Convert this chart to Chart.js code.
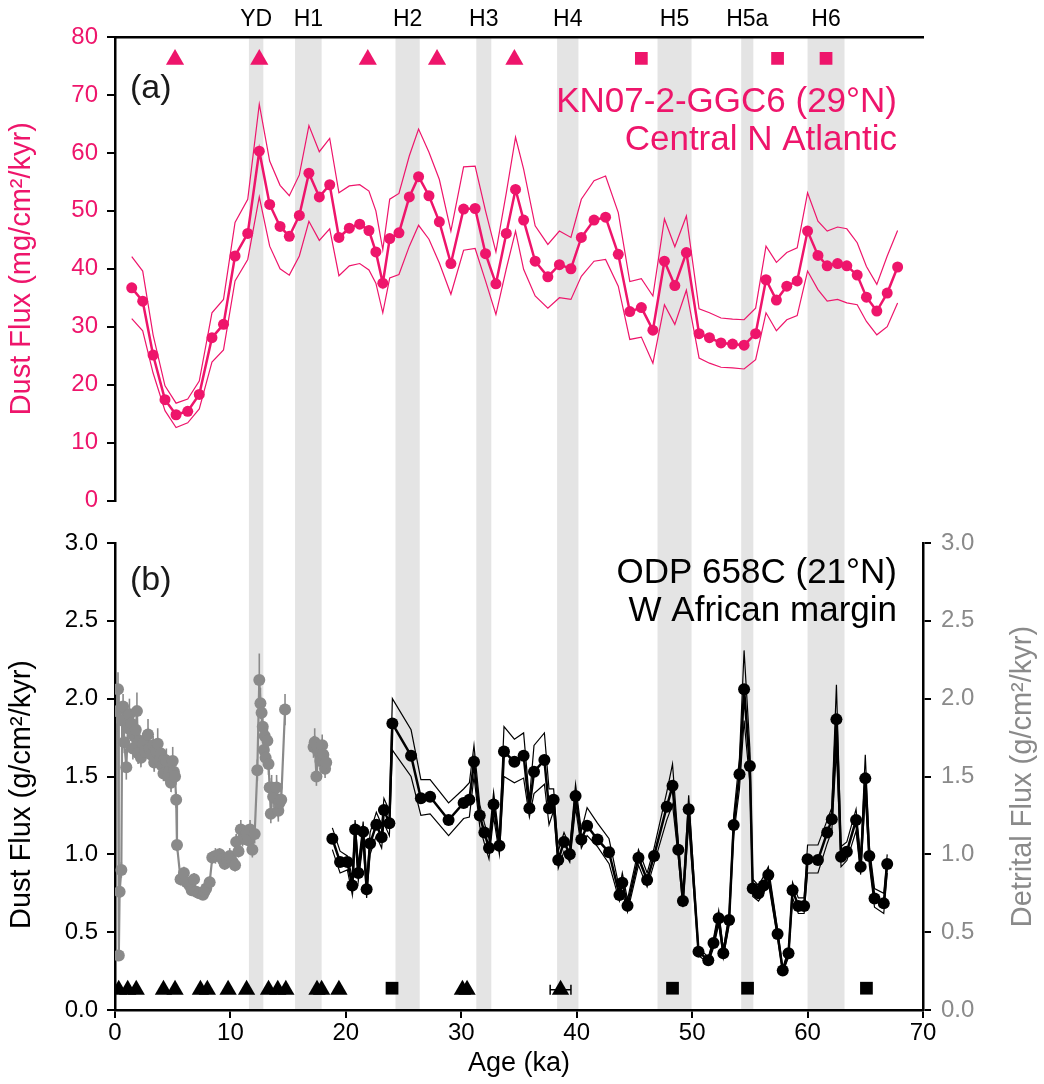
<!DOCTYPE html>
<html lang="en">
<head>
<meta charset="UTF-8" />
<title>Dust flux – KN07-2-GGC6 and ODP 658C</title>
<script src="https://cdn.jsdelivr.net/npm/chart.js@4.4.0/dist/chart.umd.min.js"></script>
<style>
  html,body{margin:0;background:#fff}
  #wrap{position:relative;width:1044px;height:1084px}
</style>
</head>
<body>
<div id="wrap"><canvas id="dust" width="1044" height="1084"></canvas></div>
<script>
/* ---------- data ---------- */
// stadial / Heinrich intervals (ka)
const eventName =['YD','H1','H2','H3','H4','H5','H5a','H6'];
const eventStart=[11.6,15.6,24.3,31.3,38.3,47.0,54.25,60.0];
const eventEnd  =[12.85,17.9,26.4,32.6,40.15,49.95,55.3,63.2];

// (a) KN07-2-GGC6 dust flux, mg/cm2/kyr
const ggcAge=[1.45,2.4,3.3,4.33,5.29,6.3,7.3,8.4,9.4,10.4,11.5,12.5,13.4,14.3,15.1,15.97,16.8,17.7,18.6,19.4,
  20.3,21.2,22.0,22.6,23.2,23.8,24.6,25.5,26.3,27.2,28.1,29.1,30.2,31.2,32.1,33.0,33.9,34.7,35.4,36.4,
  37.5,38.5,39.5,40.4,41.5,42.5,43.6,44.6,45.6,46.6,47.6,48.5,49.5,50.6,51.5,52.5,53.5,54.5,55.5,56.4,
  57.3,58.2,59.1,60.0,60.9,61.7,62.6,63.4,64.3,65.1,66.0,66.9,67.8];
const ggcFlux=[36.7,34.4,25.1,17.4,14.8,15.4,18.3,28.1,30.4,42.2,46.1,60.3,51.1,47.3,45.6,49.2,56.5,52.4,54.5,45.4,
  47.0,47.7,46.6,42.9,37.5,45.2,46.2,52.4,55.9,52.6,48.1,40.9,50.3,50.4,42.6,37.4,46.1,53.7,48.4,41.3,
  38.6,40.7,40.0,45.4,48.4,48.9,42.5,32.6,33.3,29.4,41.3,37.1,42.8,28.8,28.1,27.2,27.0,26.8,28.8,38.1,
  34.6,37.0,37.9,46.5,42.3,40.5,40.9,40.5,38.9,35.1,32.7,35.8,40.3];
const ggcHi=[42.1,39.6,28.6,19.8,16.8,17.5,20.6,32.4,34.7,48.0,52.0,68.4,58.6,54.4,52.6,56.2,64.7,60.2,62.5,53.1,
  54.3,54.5,53.4,50.0,43.3,52.0,53.0,59.5,64.1,60.1,55.4,46.5,57.6,57.7,50.0,42.9,53.1,62.7,57.2,47.4,
  44.2,46.5,45.4,52.0,55.2,56.0,49.7,37.8,38.3,35.3,48.6,43.8,49.1,33.1,32.4,31.5,31.3,31.2,33.2,43.9,
  41.1,42.8,43.6,53.1,48.2,46.5,47.2,46.9,44.5,40.4,37.3,42.2,46.6];
const ggcLo=[31.4,29.3,22.0,15.5,12.6,13.4,15.8,23.9,26.0,37.9,41.6,52.4,43.9,40.0,38.9,42.2,48.2,44.9,46.9,38.8,
  40.5,40.9,39.8,37.5,32.4,38.4,39.0,43.9,47.5,45.1,41.0,35.6,43.2,43.5,37.9,32.1,40.0,46.5,39.9,35.3,
  33.2,35.0,34.7,38.7,41.3,41.6,37.0,27.8,28.2,23.7,33.8,30.4,36.3,24.6,23.7,23.0,22.9,22.7,24.3,32.4,
  29.3,31.2,31.9,39.6,36.4,34.4,34.7,34.1,33.8,30.9,28.6,30.0,34.1];
// GGC6 age control
const ggcTriAge=[5.2,12.5,21.9,27.9,34.6];
const ggcSqAge=[45.6,57.4,61.6];
const ggcTriLevel=76.1, ggcSqLevel=76.3;

// (b) ODP 658C dust flux, g/cm2/kyr
const odpAge=[18.83,19.5,20.13,20.56,20.8,21.08,21.5,21.8,22.1,22.64,23.1,23.3,23.77,24.03,25.65,26.5,27.3,28.9,30.2,30.7,
  31.1,31.6,32.0,32.4,32.8,33.3,33.7,34.6,35.4,35.9,36.3,37.2,37.6,38.0,38.4,38.9,39.4,39.9,40.4,40.9,
  41.8,42.8,43.7,43.95,44.4,45.35,46.1,46.7,47.8,48.3,48.8,49.2,49.7,50.55,51.4,51.85,52.3,52.7,53.2,53.6,
  54.1,54.5,55.0,55.25,55.75,56.2,56.6,57.4,57.85,58.35,58.7,59.2,59.7,60.0,60.9,61.7,62.1,62.5,62.9,63.4,
  64.2,64.6,65.0,65.35,65.8,66.6,66.9];
const odpFlux=[1.10,0.95,0.95,0.80,1.16,0.88,1.145,0.775,1.07,1.19,1.11,1.285,1.20,1.84,1.634,1.36,1.37,1.22,1.33,1.35,
  1.595,1.25,1.14,1.04,1.32,1.055,1.66,1.595,1.634,1.296,1.53,1.606,1.296,1.35,0.964,1.08,1.00,1.375,1.096,1.184,
  1.096,1.013,0.739,0.818,0.67,0.978,0.835,0.99,1.306,1.44,1.03,0.70,1.29,0.375,0.32,0.43,0.59,0.364,0.578,1.188,
  1.514,2.06,1.567,0.78,0.75,0.80,0.867,0.488,0.253,0.364,0.77,0.668,0.668,0.968,0.964,1.14,1.225,1.867,0.985,1.017,
  1.22,0.92,1.488,0.99,0.717,0.685,0.938];
const odpHi=[1.17,1.02,0.99,0.85,1.22,0.93,1.21,0.83,1.14,1.27,1.19,1.36,1.28,2.00,1.80,1.48,1.48,1.33,1.42,1.46,
  1.70,1.32,1.20,1.10,1.40,1.10,1.82,1.74,1.78,1.35,1.70,1.78,1.42,1.42,1.02,1.14,1.05,1.45,1.15,1.30,
  1.20,1.10,0.78,0.88,0.71,1.03,0.88,1.04,1.40,1.58,1.08,0.74,1.38,0.40,0.34,0.46,0.64,0.39,0.62,1.25,
  1.62,2.31,1.68,0.84,0.80,0.86,0.92,0.52,0.27,0.39,0.82,0.72,0.72,1.06,1.06,1.22,1.30,2.09,1.05,1.08,
  1.29,0.98,1.64,1.05,0.78,0.75,1.00];
const odpLo=[1.03,0.88,0.90,0.74,1.09,0.83,1.08,0.72,1.00,1.12,1.04,1.20,1.12,1.67,1.50,1.25,1.26,1.12,1.23,1.24,
  1.50,1.18,1.07,0.97,1.24,1.00,1.50,1.46,1.49,1.24,1.39,1.45,1.19,1.28,0.91,1.02,0.95,1.30,1.04,1.12,
  1.05,0.94,0.70,0.76,0.63,0.93,0.79,0.94,1.22,1.32,0.98,0.66,1.20,0.35,0.30,0.40,0.55,0.34,0.54,1.12,
  1.42,1.86,1.46,0.73,0.70,0.75,0.82,0.46,0.24,0.34,0.72,0.62,0.62,0.88,0.88,1.07,1.15,1.67,0.92,0.96,
  1.15,0.87,1.38,0.93,0.66,0.62,0.88];

// (b) ODP 658C detrital flux, g/cm2/kyr (null = core gap)
const greyAge=[0.18,0.26,0.33,0.40,0.55,0.62,0.70,0.80,0.98,1.12,1.25,1.41,1.55,1.65,1.80,1.90,2.00,2.13,2.25,2.40,
  2.60,2.86,3.00,3.15,3.30,3.40,3.55,3.70,3.85,3.95,4.06,4.20,4.30,4.45,4.60,4.73,4.85,5.00,5.10,5.20,
  5.30,5.37,5.68,5.97,6.20,6.46,6.65,6.85,7.04,7.30,7.62,7.75,7.90,8.20,8.43,8.70,9.06,9.30,9.50,9.70,
  9.94,10.20,10.40,10.50,10.70,10.90,11.05,11.20,11.40,11.55,11.70,11.90,12.10,12.33,12.50,12.60,12.70,12.80,12.90,12.97,
  13.05,13.20,13.30,13.40,13.50,13.57,13.70,13.86,14.00,14.15,14.25,14.40,14.73,16.00,17.20,17.30,17.45,17.60,17.80,17.95,
  18.05,18.20,18.30];
const greyFlux=[1.92,2.06,0.35,0.76,0.90,1.86,1.95,1.72,1.56,1.81,1.90,1.84,1.68,1.76,1.80,1.92,1.65,1.73,1.62,1.71,
  1.66,1.77,1.68,1.64,1.70,1.59,1.66,1.71,1.60,1.65,1.57,1.52,1.61,1.60,1.50,1.53,1.46,1.60,1.53,1.50,
  1.35,1.06,0.84,0.88,0.82,0.80,0.77,0.84,0.76,0.75,0.74,0.76,0.78,0.82,0.98,0.99,1.00,0.97,0.94,0.96,
  0.99,0.95,0.93,1.08,1.02,1.16,1.10,1.11,1.14,1.09,1.16,1.03,1.13,1.54,2.12,1.97,1.91,1.82,1.67,1.76,
  1.62,1.73,1.58,1.43,1.26,1.43,1.37,1.36,1.43,1.28,1.33,1.35,1.93,null,1.69,1.72,1.50,1.66,1.60,1.70,
  1.64,1.55,1.59];
const greyErr=[0.08,0.11,0.03,0.04,0.05,0.10,0.08,0.07,0.08,0.09,0.10,0.08,0.07,0.08,0.06,0.12,0.07,0.08,0.06,0.07,
  0.06,0.10,0.06,0.07,0.06,0.06,0.08,0.10,0.06,0.07,0.06,0.05,0.06,0.08,0.05,0.07,0.06,0.09,0.06,0.05,
  0.05,0.04,0.04,0.04,0.03,0.04,0.03,0.04,0.03,0.03,0.03,0.03,0.04,0.04,0.04,0.05,0.04,0.04,0.04,0.05,
  0.05,0.04,0.04,0.05,0.04,0.06,0.05,0.05,0.05,0.05,0.06,0.05,0.06,0.07,0.17,0.10,0.09,0.08,0.08,0.09,
  0.07,0.08,0.07,0.06,0.06,0.08,0.07,0.07,0.08,0.07,0.06,0.08,0.10,0,0.07,0.09,0.06,0.07,0.06,0.07,
  0.07,0.06,0.05];
// ODP 658C age control
const odpTriAge=[0.32,1.1,1.84,4.2,5.2,7.4,8.0,9.8,11.4,13.3,14.1,14.8,17.5,17.9,19.4,30.1,30.5,38.6];
const odpSqAge=[24.0,48.3,54.8,65.1];
const odpTriLevel=0.13, odpSqLevel=0.14;
const tieErrAge=[38.6], tieErrHalf=[0.9];

/* ---------- style ---------- */
const PINK='#ee156b', GREY='#8a8a8a', BAND='#e4e4e4', INK='#000';
Chart.defaults.font.family="'Helvetica Neue','Liberation Sans',Arial,sans-serif";
Chart.defaults.color=INK;

const pts=(xs,ys)=>xs.map((a,i)=>({x:a,y:ys[i]}));
const flat=(xs,v)=>xs.map(a=>({x:a,y:v}));
const fixW=w=>s=>{s.width=w;};
const fixH=h=>s=>{s.height=h;};
const tickGrid={drawOnChartArea:false,tickLength:8,color:INK,lineWidth:2};
const axisLine={color:INK,width:2.5};

// rotated text reading bottom-to-top
function sideTitle(ctx,text,x,y,color,font){
  ctx.save();ctx.translate(x,y);ctx.rotate(-Math.PI/2);
  ctx.textAlign='center';ctx.textBaseline='middle';ctx.fillStyle=color;ctx.font=font;
  ctx.fillText(text,0,0);ctx.restore();
}

/* bands, error bars, labels */
const decor={
  id:'decor',
  beforeDraw(c){
    const {ctx,chartArea:a}=c,x=c.scales.x;
    ctx.save();ctx.fillStyle=BAND;
    eventStart.forEach((s,i)=>{const l=x.getPixelForValue(s),r=x.getPixelForValue(eventEnd[i]);
      ctx.fillRect(l,a.top,r-l,a.bottom-a.top);});
    ctx.restore();
  },
  beforeDatasetsDraw(c){
    const {ctx}=c,x=c.scales.x,yr=c.scales.yBotR,yb=c.scales.yBot;
    ctx.save();
    ctx.strokeStyle=GREY;ctx.lineWidth=1.6;
    greyAge.forEach((t,i)=>{const v=greyFlux[i];if(v==null)return;const px=x.getPixelForValue(t);
      ctx.beginPath();ctx.moveTo(px,yr.getPixelForValue(v-greyErr[i]));ctx.lineTo(px,yr.getPixelForValue(v+greyErr[i]));ctx.stroke();});
    ctx.strokeStyle=INK;ctx.lineWidth=1.5;
    tieErrAge.forEach((t,i)=>{const py=yb.getPixelForValue(odpTriLevel),l=x.getPixelForValue(t-tieErrHalf[i]),r=x.getPixelForValue(t+tieErrHalf[i]);
      ctx.beginPath();ctx.moveTo(l,py);ctx.lineTo(r,py);ctx.moveTo(l,py-5);ctx.lineTo(l,py+5);ctx.moveTo(r,py-5);ctx.lineTo(r,py+5);ctx.stroke();});
    ctx.restore();
  },
  afterDraw(c){
    const {ctx,chartArea:a}=c,x=c.scales.x,yb=c.scales.yBot,yr=c.scales.yBotR;
    const fam=Chart.defaults.font.family;
    ctx.save();
    // event labels above the frame
    ctx.fillStyle=INK;ctx.font=`23px ${fam}`;ctx.textAlign='center';ctx.textBaseline='middle';
    eventName.forEach((n,i)=>ctx.fillText(n,x.getPixelForValue((eventStart[i]+eventEnd[i])/2),20));
    // panel tags and site names
    ctx.textBaseline='alphabetic';ctx.font=`34px ${fam}`;
    ctx.textAlign='left';ctx.fillStyle='#1a1a1a';
    ctx.fillText('(a)',a.left+15,98);
    ctx.fillText('(b)',a.left+15,590);
    ctx.textAlign='right';ctx.font=`35px ${fam}`;
    ctx.fillStyle=PINK;
    ctx.fillText('KN07-2-GGC6 (29°N)',a.right-26,112);
    ctx.fillText('Central N Atlantic',a.right-26,150);
    ctx.fillStyle=INK;
    ctx.fillText('ODP 658C (21°N)',a.right-26,583);
    ctx.fillText('W African margin',a.right-26,621);
    ctx.restore();
    // lower panel axis titles
    sideTitle(ctx,'Dust Flux (g/cm²/kyr)',22,(yb.top+yb.bottom)/2+18,INK,`29px ${fam}`);
    sideTitle(ctx,'Detrital Flux (g/cm²/kyr)',1023,(yr.top+yr.bottom)/2,GREY,`29px ${fam}`);
  }
};

/* ---------- chart ---------- */
new Chart(document.getElementById('dust'),{
  type:'line',
  data:{datasets:[
    {data:flat(ggcTriAge,ggcTriLevel),yAxisID:'yTop',showLine:false,pointStyle:'triangle',pointRadius:10.5,backgroundColor:PINK,borderColor:PINK,borderWidth:0},
    {data:flat(ggcSqAge,ggcSqLevel),yAxisID:'yTop',showLine:false,pointStyle:'rect',pointRadius:9,backgroundColor:PINK,borderColor:PINK,borderWidth:0},
    {data:pts(ggcAge,ggcFlux),yAxisID:'yTop',borderColor:PINK,borderWidth:2.5,pointRadius:5.5,backgroundColor:PINK,pointBorderWidth:0},
    {data:pts(ggcAge,ggcHi),yAxisID:'yTop',borderColor:PINK,borderWidth:1.2,pointRadius:0},
    {data:pts(ggcAge,ggcLo),yAxisID:'yTop',borderColor:PINK,borderWidth:1.2,pointRadius:0},

    {data:flat(odpTriAge,odpTriLevel),yAxisID:'yBot',showLine:false,pointStyle:'triangle',pointRadius:10,backgroundColor:INK,borderColor:INK,borderWidth:0},
    {data:flat(odpSqAge,odpSqLevel),yAxisID:'yBot',showLine:false,pointStyle:'rect',pointRadius:9,backgroundColor:INK,borderColor:INK,borderWidth:0},
    {data:pts(odpAge,odpFlux),yAxisID:'yBot',borderColor:INK,borderWidth:2.5,pointRadius:6,backgroundColor:INK,pointBorderWidth:0},
    {data:pts(odpAge,odpHi),yAxisID:'yBot',borderColor:INK,borderWidth:1.2,pointRadius:0},
    {data:pts(odpAge,odpLo),yAxisID:'yBot',borderColor:INK,borderWidth:1.2,pointRadius:0},
    {data:pts(greyAge,greyFlux),yAxisID:'yBotR',borderColor:GREY,borderWidth:2.2,pointRadius:6,backgroundColor:GREY,pointBorderWidth:0}
  ]},
  options:{
    responsive:false,animation:false,devicePixelRatio:1,events:[],
    layout:{padding:0},
    plugins:{legend:{display:false},tooltip:{enabled:false}},
    scales:{
      x:{type:'linear',position:'bottom',min:0,max:70,
        ticks:{stepSize:10,font:{size:24},padding:1,color:INK},
        grid:tickGrid,border:axisLine,
        title:{display:true,text:'Age (ka)',font:{size:27},padding:{top:0,bottom:4}},
        afterFit:fixH(74)},
      xTop:{type:'linear',position:'top',min:0,max:70,
        ticks:{display:false},grid:{display:false},border:axisLine,afterFit:fixH(37)},
      yTop:{type:'linear',position:'left',stack:'left',stackWeight:463.5,weight:3,min:0,max:80,
        ticks:{stepSize:10,color:PINK,font:{size:24},padding:9},
        grid:tickGrid,border:axisLine,
        title:{display:true,text:'Dust Flux (mg/cm²/kyr)',color:PINK,font:{size:29},padding:{top:5}},
        afterFit:fixW(115)},
      yGapL:{type:'linear',position:'left',stack:'left',stackWeight:42.5,weight:2,display:false,afterFit:fixW(115)},
      yBot:{type:'linear',position:'left',stack:'left',stackWeight:467,weight:1,min:0,max:3,
        ticks:{stepSize:0.5,font:{size:24},padding:9,color:INK,callback:v=>v.toFixed(1)},
        grid:tickGrid,border:axisLine,
        afterFit:fixW(115)},
      yTopR:{type:'linear',position:'right',stack:'right',stackWeight:506,weight:1,display:false,afterFit:fixW(121)},
      yBotR:{type:'linear',position:'right',stack:'right',stackWeight:467,weight:2,min:0,max:3,
        ticks:{stepSize:0.5,font:{size:24},padding:10,color:GREY,callback:v=>v.toFixed(1)},
        grid:tickGrid,border:axisLine,
        afterFit:fixW(121)}
    }
  },
  plugins:[decor]
});
</script>
</body>
</html>
